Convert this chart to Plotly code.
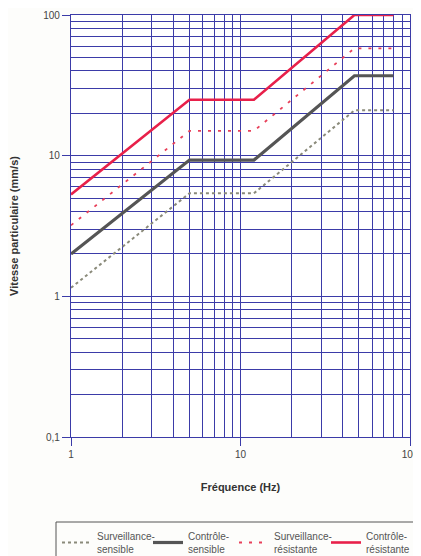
import plotly.graph_objects as go

freq = [1, 5, 12, 47, 80]
surv_sensible = [1.15, 5.4, 5.4, 21, 21]
ctrl_sensible = [2.0, 9.3, 9.3, 37, 37]
surv_resistante = [3.2, 15, 15, 58, 58]
ctrl_resistante = [5.3, 25, 25, 100, 100]

x_ticks = [1, 10, 100]
x_tick_labels = ["1", "10", "100"]
y_ticks = [0.1, 1, 10, 100]
y_tick_labels = ["0,1", "1", "10", "100"]

grid_blue = "#3b3ba8"
font = "Liberation Sans, Arial, sans-serif"

# the page body adds an 8px offset; size the figure so it ends at the window edge
W, H = 413, 548
ML, MR, MT, MB = 63, 11, 7, 119
PW, PH = W - ML - MR, H - MT - MB

fig = go.Figure()
fig.add_trace(go.Scatter(x=freq, y=surv_sensible, mode="lines",
                         name="Surveillance-<br>sensible", legend="legend",
                         line=dict(color="#8a8a7a", width=2, dash="dot")))
fig.add_trace(go.Scatter(x=freq, y=ctrl_sensible, mode="lines",
                         name="Contrôle-<br>sensible", legend="legend2",
                         line=dict(color="#555555", width=3.2)))
fig.add_trace(go.Scatter(x=freq, y=surv_resistante, mode="lines",
                         name="Surveillance-<br>résistante", legend="legend3",
                         line=dict(color="#e8405a", width=1.8, dash="3px,7px")))
fig.add_trace(go.Scatter(x=freq, y=ctrl_resistante, mode="lines",
                         name="Contrôle-<br>résistante", legend="legend4",
                         line=dict(color="#e8204a", width=2.6)))

axis_common = dict(
    type="log", showgrid=True, gridcolor=grid_blue, gridwidth=1.2,
    showline=True, linecolor=grid_blue, linewidth=1.2, mirror=True,
    ticks="outside", tickcolor=grid_blue, ticklen=8, tickwidth=1.2,
    zeroline=False, automargin=False,
    minor=dict(dtick="D1", showgrid=True, gridcolor=grid_blue, gridwidth=1.2, ticks=""),
    tickfont=dict(family=font, size=10, color="#444444"),
)

fig.update_xaxes(**axis_common, range=[0, 2], tickvals=x_ticks, ticktext=x_tick_labels,
                 ticklabeloverflow="allow",
                 title=dict(text="<b>Fréquence (Hz)</b>", standoff=24,
                            font=dict(family=font, size=11, color="#333333")))
fig.update_yaxes(**axis_common, range=[-1, 2], tickvals=y_ticks, ticktext=y_tick_labels,
                 title=dict(text="<b>Vitesse particulaire (mm/s)</b>", standoff=31,
                            font=dict(family=font, size=11, color="#333333")))

# legend frame (extends beyond the right and bottom edges, as in the reference)
fig.add_shape(type="rect", xref="paper", yref="paper",
              x0=(48 - ML) / PW, x1=1.1,
              y0=-(514 - MT - PH) / PH, y1=-(560 - MT - PH) / PH,
              line=dict(color="#555555", width=1), fillcolor="rgba(0,0,0,0)")


def legend_at(xpx):
    return dict(orientation="h", xref="container", yref="container",
                x=xpx / W, y=1 - 515 / H, xanchor="left", yanchor="top",
                borderwidth=0, bgcolor="rgba(0,0,0,0)",
                font=dict(family=font, size=10, color="#555555"),
                itemwidth=30)


fig.update_layout(
    width=W, height=H,
    margin=dict(l=ML, r=MR, t=MT, b=MB),
    paper_bgcolor="#fdfdfb", plot_bgcolor="white",
    showlegend=True,
    legend=legend_at(49),
    legend2=legend_at(140),
    legend3=legend_at(226),
    legend4=legend_at(318),
)

fig.write_html(
    "out.html",
    post_script="document.documentElement.style.overflow='hidden';"
                "document.body.style.overflow='hidden';",
)
